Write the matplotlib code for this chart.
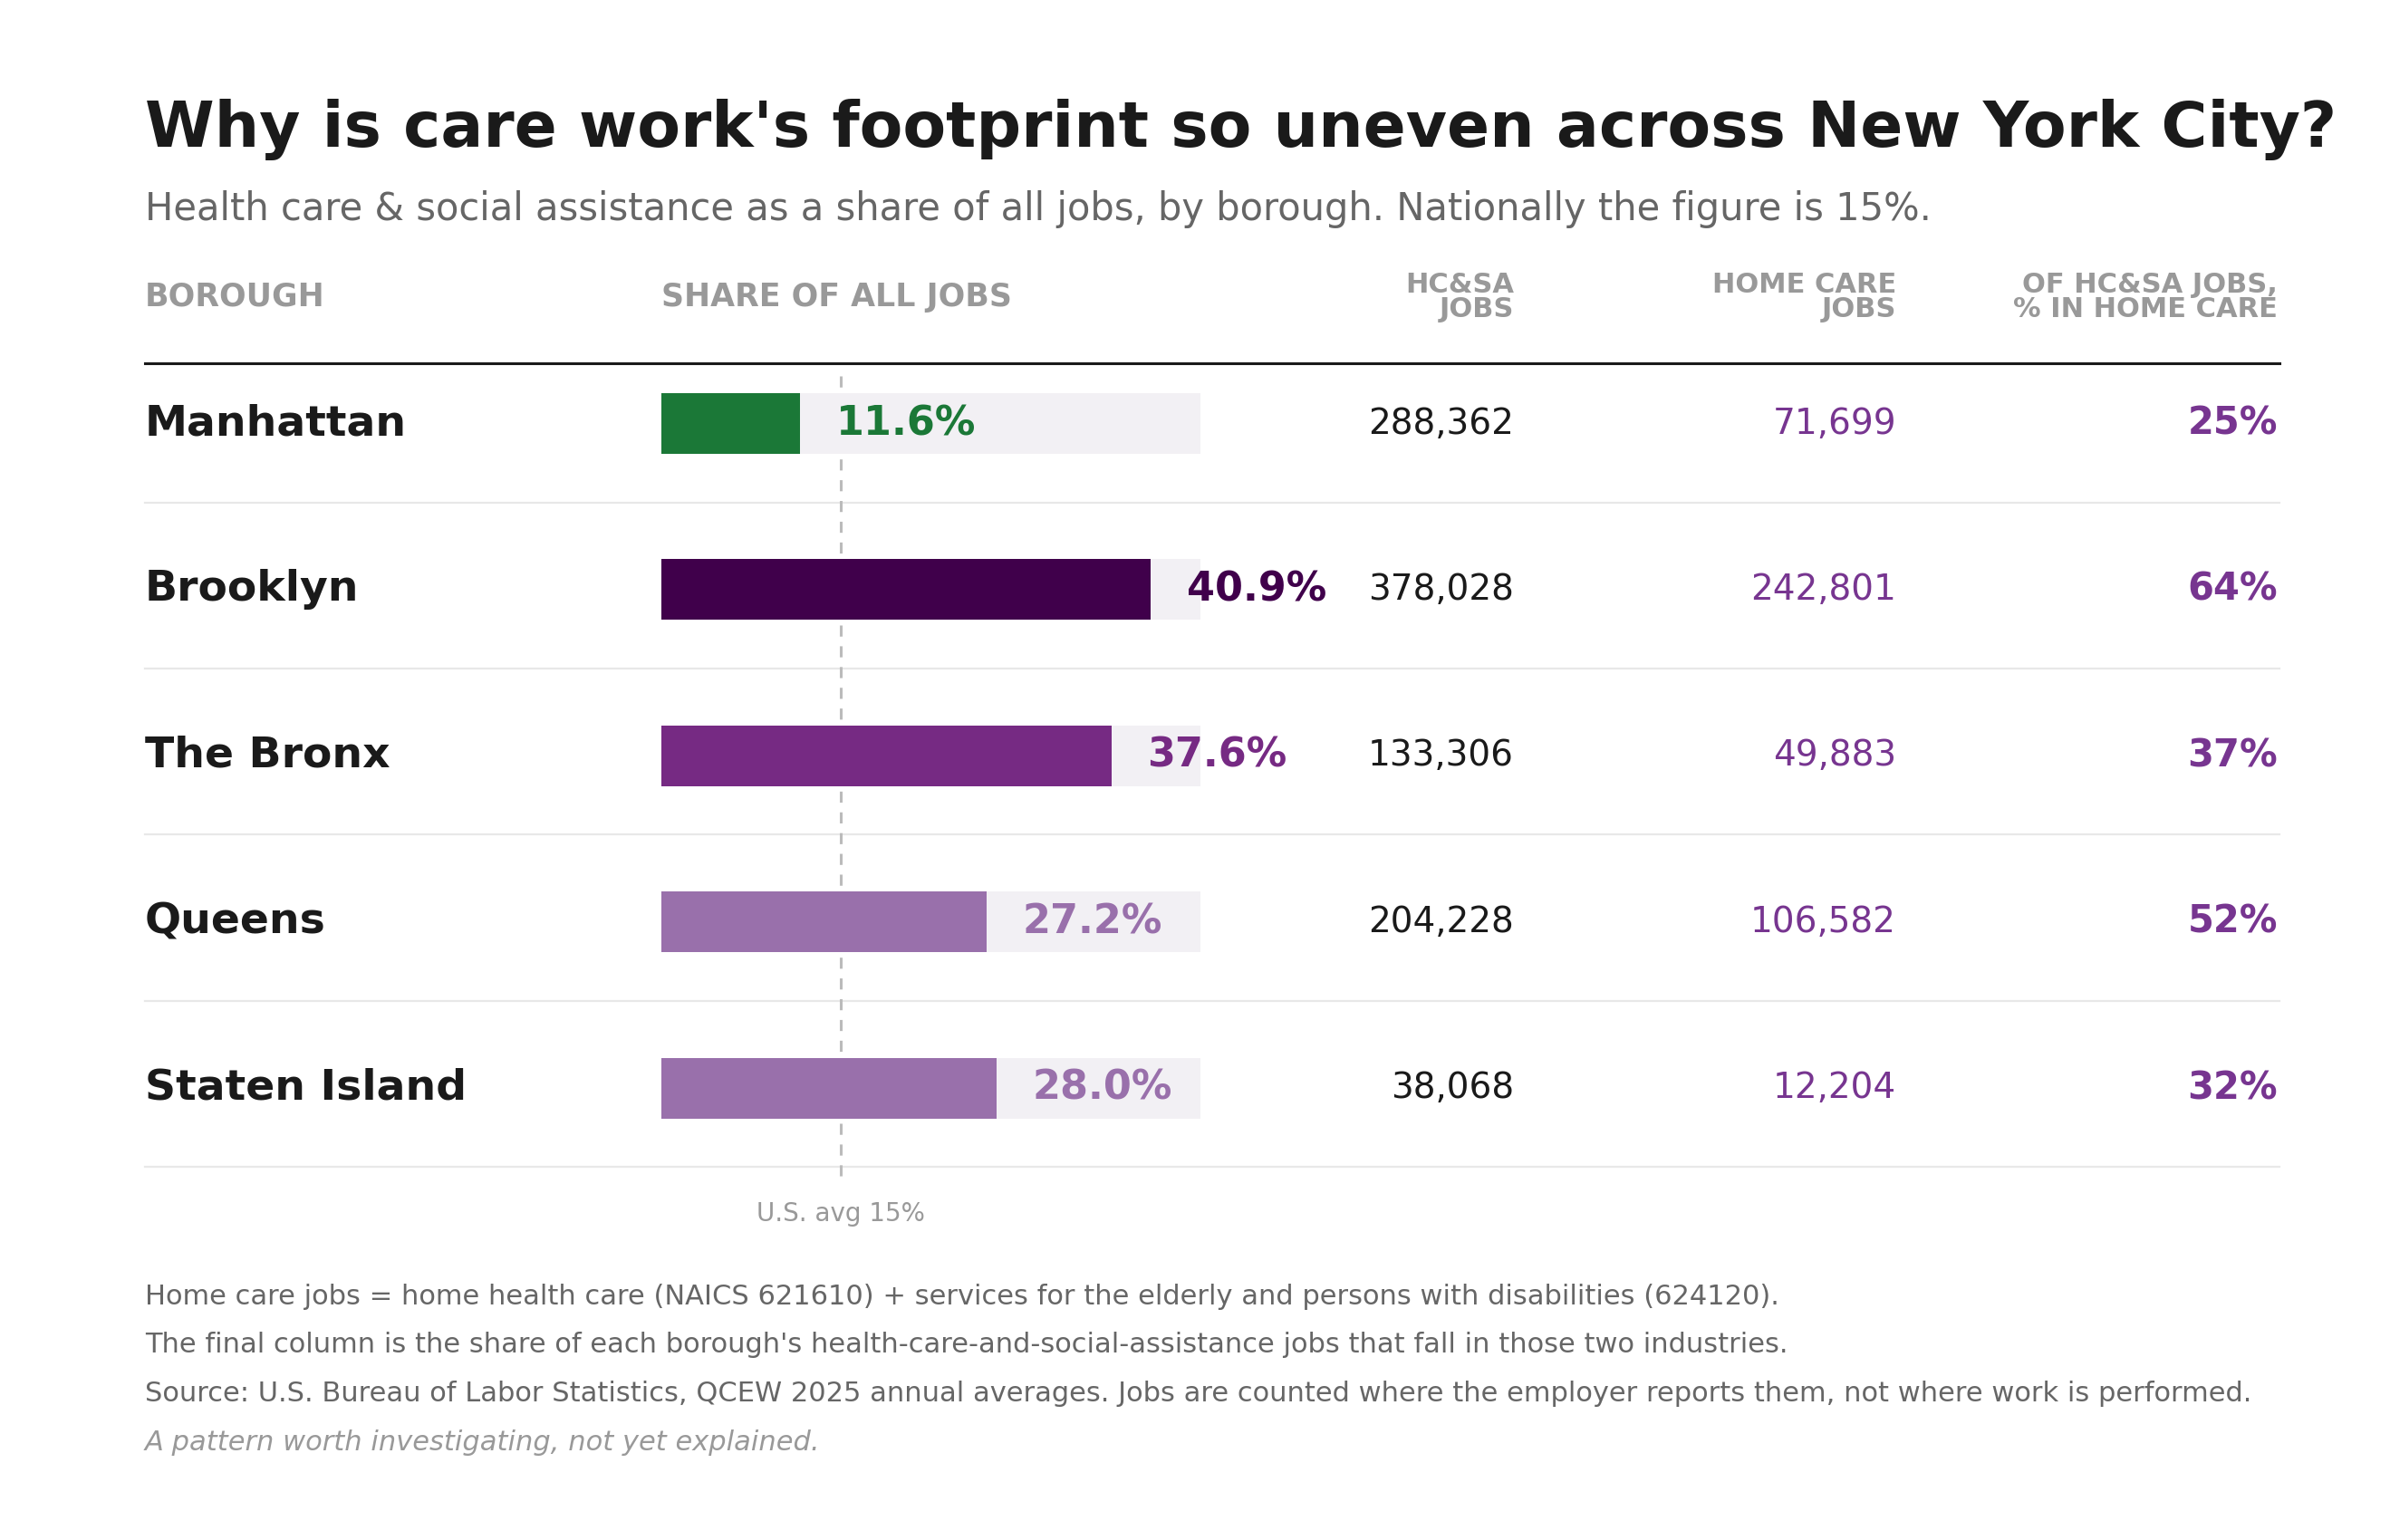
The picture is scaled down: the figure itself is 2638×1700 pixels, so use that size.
import matplotlib
matplotlib.use("Agg")
import matplotlib.pyplot as plt
from matplotlib.transforms import blended_transform_factory
from matplotlib.lines import Line2D

# ---------------- data ----------------
boroughs = ["Manhattan", "Brooklyn", "The Bronx", "Queens", "Staten Island"]
share_pct = [11.6, 40.9, 37.6, 27.2, 28.0]
hcsa_jobs = [288362, 378028, 133306, 204228, 38068]
home_care_jobs = [71699, 242801, 49883, 106582, 12204]
home_care_share = [25, 64, 37, 52, 32]
bar_colors = ["#1b7837", "#40004b", "#762a83", "#9970ab", "#9970ab"]
US_AVG = 15
TRACK_MAX = 45

title = "Why is care work's footprint so uneven across New York City?"
subtitle = ("Health care & social assistance as a share of all jobs, by borough. "
            "Nationally the figure is 15%.")
col_headers = ["BOROUGH", "SHARE OF ALL JOBS", "HC&SA\nJOBS", "HOME CARE\nJOBS",
               "OF HC&SA JOBS,\n% IN HOME CARE"]
footnotes = [
    "Home care jobs = home health care (NAICS 621610) + services for the elderly and persons with disabilities (624120).",
    "The final column is the share of each borough's health-care-and-social-assistance jobs that fall in those two industries.",
    "Source: U.S. Bureau of Labor Statistics, QCEW 2025 annual averages. Jobs are counted where the employer reports them, not where work is performed.",
]
tagline = "A pattern worth investigating, not yet explained."

# ---------------- layout ----------------
W, H = 2638, 1700
DPI = 200
fig = plt.figure(figsize=(W / DPI, H / DPI), dpi=DPI)
fig.patch.set_facecolor("white")

def fx(px):
    return px / W

def fy(py):
    return 1 - py / H

ROW0 = 467.5      # px centre of first row
ROWH = 183.4      # px per row
TOP_PX, BOT_PX = 400, 1310
X0_PX, X1_PX = 730, 1324.5
PURPLE_TXT = "#773590"

ax = fig.add_axes([fx(X0_PX), fy(BOT_PX), fx(X1_PX - X0_PX), (BOT_PX - TOP_PX) / H])
ax.set_xlim(0, TRACK_MAX)
ax.set_ylim((BOT_PX - ROW0) / ROWH, (TOP_PX - ROW0) / ROWH)
ax.axis("off")

ys = list(range(len(boroughs)))
BAR_H = 67 / ROWH

# tracks + bars
ax.barh(ys, [TRACK_MAX] * len(ys), height=BAR_H, color="#f2f0f4", zorder=1)
ax.barh(ys, share_pct, height=BAR_H, color=bar_colors, zorder=2)

# US average dashed line (behind the bars)
ax.vlines(US_AVG, (415 - ROW0) / ROWH, (1308 - ROW0) / ROWH, colors="#bbbbbb",
          linestyles=(0, (4, 3.5)), linewidth=1.1, zorder=0.5)

# value labels
for y, v, c in zip(ys, share_pct, bar_colors):
    ax.text(v + 3.0, y, f"{v:.1f}%", color=c, fontsize=16, fontweight="bold",
            va="center", ha="left", zorder=4, clip_on=False)

tr = blended_transform_factory(fig.transFigure, ax.transData)

X_NAME = fx(160)
X_HCSA = fx(1671)
X_HOME = fx(2093)
X_PCT = fx(2514)

for y, name, hj, hc, pc in zip(ys, boroughs, hcsa_jobs, home_care_jobs, home_care_share):
    ax.text(X_NAME, y, name, transform=tr, fontsize=17, fontweight="bold",
            color="#1a1a1a", va="center", ha="left", clip_on=False)
    ax.text(X_HCSA, y, f"{hj:,}", transform=tr, fontsize=14, color="#1a1a1a",
            va="center", ha="right", clip_on=False)
    ax.text(X_HOME, y, f"{hc:,}", transform=tr, fontsize=14, color=PURPLE_TXT,
            va="center", ha="right", clip_on=False)
    ax.text(X_PCT, y, f"{pc}%", transform=tr, fontsize=15, fontweight="bold",
            color=PURPLE_TXT, va="center", ha="right", clip_on=False)
    # separator below each row
    fig.add_artist(Line2D([fx(160), fx(2516)], [y + 0.475, y + 0.475], transform=tr,
                          color="#e8e8e8", linewidth=0.8, zorder=0))

# thick header rule
fig.add_artist(Line2D([fx(160), fx(2516)], [fy(401), fy(401)], transform=fig.transFigure,
                      color="#1a1a1a", linewidth=1.1))

# headers
HDR_Y = fy(328)
fig.text(X_NAME, HDR_Y, col_headers[0], fontsize=12.5, fontweight="bold", color="#999999",
         va="center", ha="left")
fig.text(fx(X0_PX), HDR_Y, col_headers[1], fontsize=12.5, fontweight="bold", color="#999999",
         va="center", ha="left")
for x, h in zip([X_HCSA, X_HOME, X_PCT], col_headers[2:]):
    fig.text(x, HDR_Y, h, fontsize=11, fontweight="bold", color="#999999",
             va="center", ha="right", multialignment="right", linespacing=0.92)

# US avg label
trx = blended_transform_factory(ax.transData, fig.transFigure)
ax.text(US_AVG, fy(1340), f"U.S. avg {US_AVG}%", transform=trx, fontsize=10,
        color="#999999", ha="center", va="center", clip_on=False)

# title & subtitle
fig.text(fx(160), fy(162), title, fontsize=25, fontweight="bold", color="#1a1a1a",
         va="baseline", ha="left")
fig.text(fx(160), fy(243), subtitle, fontsize=15, color="#666666", va="baseline", ha="left")

# footnotes
for i, t in enumerate(footnotes):
    fig.text(fx(160), fy(1431 + 53.7 * i), t, fontsize=11, color="#666666",
             va="center", ha="left")
fig.text(fx(160), fy(1431 + 53.7 * 3), tagline, fontsize=11, color="#999999",
         style="italic", va="center", ha="left")

fig.savefig("out.png", dpi=DPI, facecolor="white")
